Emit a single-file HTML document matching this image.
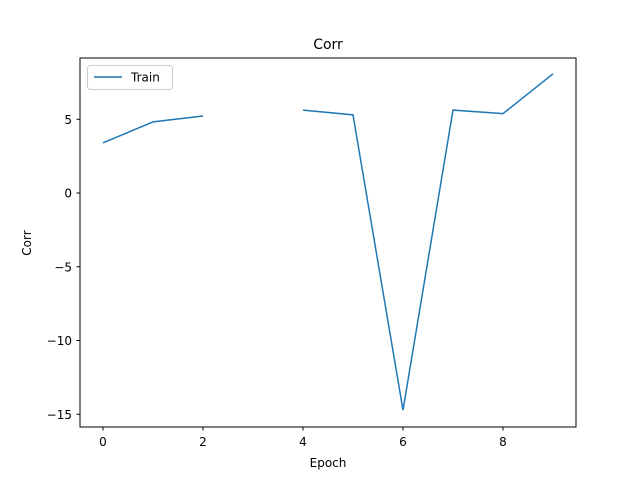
<!DOCTYPE html>
<html><head><meta charset="utf-8"><style>
body{margin:0;background:#fff;}
svg{display:block;font-family:"DejaVu Sans","Liberation Sans",sans-serif;}
</style></head><body>
<svg id="chart" width="640" height="480" xmlns="http://www.w3.org/2000/svg">
<rect width="640" height="480" fill="#fff"/>
<text x="328" y="49" font-size="14" text-anchor="middle">Corr</text>
<text x="328" y="467" font-size="12" text-anchor="middle">Epoch</text>
<text x="31" y="243" font-size="12" text-anchor="middle" transform="rotate(-90 31 243)">Corr</text>
<g id="ticks"></g>
<g id="series"></g>
<rect x="80" y="58" width="496" height="369" fill="none" stroke="#000" stroke-width="1"/>
<g>
<rect x="87.5" y="65.5" width="85" height="24" rx="3" fill="#fff" stroke="#ccc"/>
<line x1="94" y1="77" x2="122" y2="77" stroke="#1f77b4" stroke-width="1.5"/>
<text x="131" y="81.5" font-size="12">Train</text>
</g>
</svg>
<script>
const epochs = [0,1,2,3,4,5,6,7,8,9];
const trainValues = [3.4, 4.82, 5.22, null, 5.62, 5.3, -14.72, 5.62, 5.38, 8.08];
const xTicks = [0,2,4,6,8];
const yTicks = [5,0,-5,-10,-15];
const yTickLabels = ["5","0","\u22125","\u221210","\u221215"];

function xs(v){return 103 + v*50;}
function ys(v){return 193 - v*14.75;}
const NS="http://www.w3.org/2000/svg";
const tg=document.getElementById('ticks');
xTicks.forEach(t=>{
  const l=document.createElementNS(NS,'line');
  l.setAttribute('x1',xs(t));l.setAttribute('x2',xs(t));l.setAttribute('y1',427);l.setAttribute('y2',430.5);l.setAttribute('stroke','#000');
  
  
  tg.appendChild(l);
  const tx=document.createElementNS(NS,'text');
  tx.setAttribute('x',xs(t));tx.setAttribute('y',446);tx.setAttribute('font-size','12');tx.setAttribute('text-anchor','middle');
  tx.textContent=String(t);
  
  
  tg.appendChild(tx);
});
yTicks.forEach((t,i)=>{
  const l=document.createElementNS(NS,'line');
  l.setAttribute('x1',76.5);l.setAttribute('x2',80);l.setAttribute('y1',ys(t));l.setAttribute('y2',ys(t));l.setAttribute('stroke','#000');
  
  
  tg.appendChild(l);
  const tx=document.createElementNS(NS,'text');
  tx.setAttribute('x',72);tx.setAttribute('y',ys(t)+4.5);tx.setAttribute('font-size','12');tx.setAttribute('text-anchor','end');
  tx.textContent=yTickLabels[i];
  
  
  tg.appendChild(tx);
});
let d='',pen=false;
epochs.forEach((e,i)=>{
  const v=trainValues[i];
  if(v===null||v===undefined){pen=false;return;}
  d+=(pen?'L':'M')+xs(e)+' '+ys(v)+' ';pen=true;
});
const p=document.createElementNS(NS,'path');
p.setAttribute('d',d);p.setAttribute('fill','none');p.setAttribute('stroke','#1f77b4');p.setAttribute('stroke-width','1.5');


document.getElementById('series').appendChild(p);
</script>
</body></html>
